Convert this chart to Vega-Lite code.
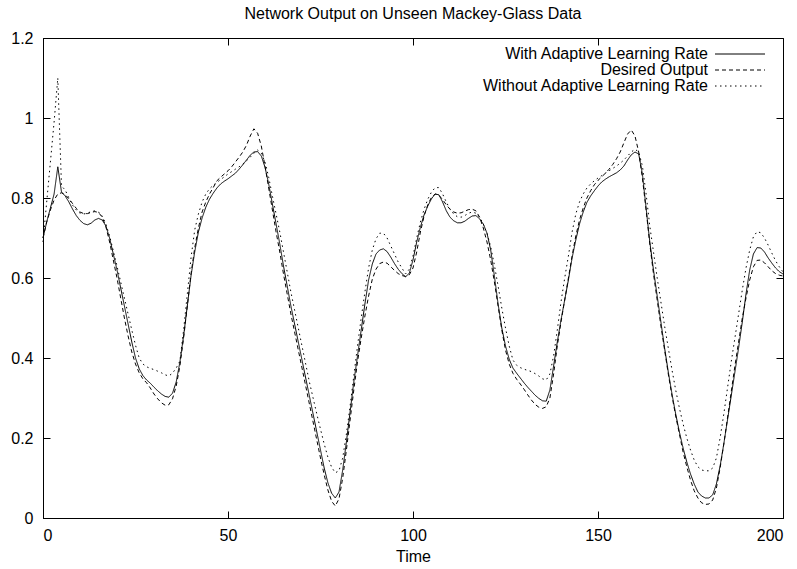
{
  "$schema": "https://vega.github.io/schema/vega-lite/v6.json",
  "width": 740,
  "height": 480,
  "autosize": {"type": "none"},
  "padding": {"left": 43, "top": 38, "right": 14, "bottom": 51},
  "background": "white",
  "title": {
    "text": "Network Output on Unseen Mackey-Glass Data",
    "font": "Liberation Sans",
    "fontSize": 16,
    "fontWeight": "normal",
    "color": "black",
    "anchor": "middle",
    "offset": 8
  },
  "config": {
    "view": {"stroke": "black", "strokeWidth": 1},
    "axis": {
      "grid": false,
      "domainColor": "black",
      "tickColor": "black",
      "tickSize": -7,
      "labelColor": "black",
      "labelFont": "Liberation Sans",
      "labelFontSize": 16,
      "titleFont": "Liberation Sans",
      "titleFontSize": 16,
      "titleFontWeight": "normal",
      "titleColor": "black"
    },
    "legend": {
      "labelFont": "Liberation Sans",
      "labelFontSize": 16,
      "labelColor": "black",
      "labelLimit": 0
    }
  },
  "data": {
    "values": [
      {"t":0,"w":0.700,"d":0.700,"n":0.690},
      {"t":1,"w":0.740,"d":0.740,"n":0.790},
      {"t":2,"w":0.775,"d":0.770,"n":0.890},
      {"t":3,"w":0.810,"d":0.795,"n":0.990},
      {"t":4,"w":0.878,"d":0.810,"n":1.100},
      {"t":5,"w":0.815,"d":0.813,"n":0.830},
      {"t":6,"w":0.805,"d":0.808,"n":0.820},
      {"t":7,"w":0.790,"d":0.798,"n":0.800},
      {"t":8,"w":0.772,"d":0.786,"n":0.782},
      {"t":9,"w":0.756,"d":0.774,"n":0.770},
      {"t":10,"w":0.744,"d":0.765,"n":0.762},
      {"t":11,"w":0.736,"d":0.761,"n":0.760},
      {"t":12,"w":0.733,"d":0.761,"n":0.762},
      {"t":13,"w":0.737,"d":0.764,"n":0.766},
      {"t":14,"w":0.745,"d":0.766,"n":0.768},
      {"t":15,"w":0.749,"d":0.764,"n":0.765},
      {"t":16,"w":0.745,"d":0.752,"n":0.755},
      {"t":17,"w":0.730,"d":0.728,"n":0.735},
      {"t":18,"w":0.700,"d":0.690,"n":0.705},
      {"t":19,"w":0.660,"d":0.645,"n":0.668},
      {"t":20,"w":0.620,"d":0.600,"n":0.630},
      {"t":21,"w":0.575,"d":0.550,"n":0.590},
      {"t":22,"w":0.530,"d":0.500,"n":0.550},
      {"t":23,"w":0.485,"d":0.455,"n":0.510},
      {"t":24,"w":0.440,"d":0.415,"n":0.470},
      {"t":25,"w":0.400,"d":0.385,"n":0.432},
      {"t":26,"w":0.373,"d":0.363,"n":0.400},
      {"t":27,"w":0.356,"d":0.348,"n":0.385},
      {"t":28,"w":0.345,"d":0.338,"n":0.378},
      {"t":29,"w":0.337,"d":0.325,"n":0.374},
      {"t":30,"w":0.327,"d":0.310,"n":0.371},
      {"t":31,"w":0.318,"d":0.298,"n":0.367},
      {"t":32,"w":0.310,"d":0.288,"n":0.363},
      {"t":33,"w":0.304,"d":0.282,"n":0.358},
      {"t":34,"w":0.302,"d":0.283,"n":0.355},
      {"t":35,"w":0.312,"d":0.298,"n":0.362},
      {"t":36,"w":0.340,"d":0.330,"n":0.375},
      {"t":37,"w":0.390,"d":0.380,"n":0.392},
      {"t":38,"w":0.455,"d":0.450,"n":0.470},
      {"t":39,"w":0.530,"d":0.530,"n":0.560},
      {"t":40,"w":0.605,"d":0.610,"n":0.650},
      {"t":41,"w":0.665,"d":0.675,"n":0.720},
      {"t":42,"w":0.715,"d":0.725,"n":0.760},
      {"t":43,"w":0.750,"d":0.765,"n":0.790},
      {"t":44,"w":0.777,"d":0.790,"n":0.810},
      {"t":45,"w":0.797,"d":0.810,"n":0.823},
      {"t":46,"w":0.812,"d":0.826,"n":0.832},
      {"t":47,"w":0.825,"d":0.843,"n":0.839},
      {"t":48,"w":0.835,"d":0.852,"n":0.846},
      {"t":49,"w":0.842,"d":0.860,"n":0.853},
      {"t":50,"w":0.848,"d":0.868,"n":0.860},
      {"t":51,"w":0.855,"d":0.878,"n":0.866},
      {"t":52,"w":0.862,"d":0.890,"n":0.872},
      {"t":53,"w":0.872,"d":0.902,"n":0.878},
      {"t":54,"w":0.883,"d":0.915,"n":0.885},
      {"t":55,"w":0.895,"d":0.932,"n":0.893},
      {"t":56,"w":0.907,"d":0.955,"n":0.902},
      {"t":57,"w":0.915,"d":0.973,"n":0.912},
      {"t":58,"w":0.916,"d":0.962,"n":0.920},
      {"t":59,"w":0.905,"d":0.930,"n":0.912},
      {"t":60,"w":0.877,"d":0.880,"n":0.890},
      {"t":61,"w":0.835,"d":0.825,"n":0.852},
      {"t":62,"w":0.785,"d":0.770,"n":0.805},
      {"t":63,"w":0.735,"d":0.715,"n":0.760},
      {"t":64,"w":0.685,"d":0.665,"n":0.715},
      {"t":65,"w":0.630,"d":0.610,"n":0.665},
      {"t":66,"w":0.580,"d":0.560,"n":0.615},
      {"t":67,"w":0.530,"d":0.510,"n":0.565},
      {"t":68,"w":0.485,"d":0.465,"n":0.520},
      {"t":69,"w":0.440,"d":0.420,"n":0.475},
      {"t":70,"w":0.395,"d":0.375,"n":0.430},
      {"t":71,"w":0.350,"d":0.330,"n":0.385},
      {"t":72,"w":0.305,"d":0.285,"n":0.340},
      {"t":73,"w":0.260,"d":0.240,"n":0.300},
      {"t":74,"w":0.215,"d":0.195,"n":0.260},
      {"t":75,"w":0.170,"d":0.150,"n":0.222},
      {"t":76,"w":0.125,"d":0.108,"n":0.185},
      {"t":77,"w":0.088,"d":0.070,"n":0.152},
      {"t":78,"w":0.062,"d":0.042,"n":0.127},
      {"t":79,"w":0.050,"d":0.030,"n":0.113},
      {"t":80,"w":0.065,"d":0.048,"n":0.118},
      {"t":81,"w":0.120,"d":0.100,"n":0.150},
      {"t":82,"w":0.190,"d":0.170,"n":0.210},
      {"t":83,"w":0.265,"d":0.245,"n":0.280},
      {"t":84,"w":0.340,"d":0.320,"n":0.355},
      {"t":85,"w":0.405,"d":0.390,"n":0.430},
      {"t":86,"w":0.470,"d":0.450,"n":0.500},
      {"t":87,"w":0.535,"d":0.505,"n":0.565},
      {"t":88,"w":0.595,"d":0.555,"n":0.625},
      {"t":89,"w":0.635,"d":0.597,"n":0.670},
      {"t":90,"w":0.660,"d":0.622,"n":0.698},
      {"t":91,"w":0.670,"d":0.636,"n":0.712},
      {"t":92,"w":0.673,"d":0.640,"n":0.712},
      {"t":93,"w":0.666,"d":0.637,"n":0.700},
      {"t":94,"w":0.652,"d":0.628,"n":0.680},
      {"t":95,"w":0.636,"d":0.619,"n":0.660},
      {"t":96,"w":0.622,"d":0.611,"n":0.640},
      {"t":97,"w":0.611,"d":0.606,"n":0.625},
      {"t":98,"w":0.603,"d":0.604,"n":0.610},
      {"t":99,"w":0.612,"d":0.608,"n":0.622},
      {"t":100,"w":0.645,"d":0.625,"n":0.655},
      {"t":101,"w":0.690,"d":0.665,"n":0.700},
      {"t":102,"w":0.727,"d":0.715,"n":0.740},
      {"t":103,"w":0.758,"d":0.755,"n":0.772},
      {"t":104,"w":0.780,"d":0.783,"n":0.797},
      {"t":105,"w":0.798,"d":0.802,"n":0.815},
      {"t":106,"w":0.810,"d":0.810,"n":0.826},
      {"t":107,"w":0.808,"d":0.807,"n":0.826},
      {"t":108,"w":0.790,"d":0.796,"n":0.810},
      {"t":109,"w":0.768,"d":0.783,"n":0.790},
      {"t":110,"w":0.752,"d":0.772,"n":0.772},
      {"t":111,"w":0.743,"d":0.765,"n":0.760},
      {"t":112,"w":0.738,"d":0.762,"n":0.753},
      {"t":113,"w":0.738,"d":0.763,"n":0.752},
      {"t":114,"w":0.742,"d":0.767,"n":0.756},
      {"t":115,"w":0.749,"d":0.771,"n":0.762},
      {"t":116,"w":0.755,"d":0.772,"n":0.765},
      {"t":117,"w":0.756,"d":0.768,"n":0.762},
      {"t":118,"w":0.748,"d":0.752,"n":0.752},
      {"t":119,"w":0.735,"d":0.725,"n":0.735},
      {"t":120,"w":0.712,"d":0.690,"n":0.712},
      {"t":121,"w":0.670,"d":0.645,"n":0.678},
      {"t":122,"w":0.605,"d":0.590,"n":0.632},
      {"t":123,"w":0.535,"d":0.530,"n":0.580},
      {"t":124,"w":0.475,"d":0.470,"n":0.525},
      {"t":125,"w":0.430,"d":0.420,"n":0.475},
      {"t":126,"w":0.397,"d":0.385,"n":0.430},
      {"t":127,"w":0.375,"d":0.362,"n":0.395},
      {"t":128,"w":0.362,"d":0.347,"n":0.382},
      {"t":129,"w":0.350,"d":0.335,"n":0.376},
      {"t":130,"w":0.338,"d":0.322,"n":0.372},
      {"t":131,"w":0.327,"d":0.308,"n":0.369},
      {"t":132,"w":0.317,"d":0.295,"n":0.366},
      {"t":133,"w":0.307,"d":0.284,"n":0.361},
      {"t":134,"w":0.299,"d":0.277,"n":0.355},
      {"t":135,"w":0.293,"d":0.274,"n":0.348},
      {"t":136,"w":0.292,"d":0.278,"n":0.345},
      {"t":137,"w":0.320,"d":0.300,"n":0.360},
      {"t":138,"w":0.380,"d":0.360,"n":0.405},
      {"t":139,"w":0.440,"d":0.430,"n":0.470},
      {"t":140,"w":0.495,"d":0.490,"n":0.540},
      {"t":141,"w":0.545,"d":0.545,"n":0.600},
      {"t":142,"w":0.595,"d":0.600,"n":0.655},
      {"t":143,"w":0.650,"d":0.655,"n":0.715},
      {"t":144,"w":0.695,"d":0.705,"n":0.760},
      {"t":145,"w":0.735,"d":0.745,"n":0.790},
      {"t":146,"w":0.765,"d":0.775,"n":0.810},
      {"t":147,"w":0.789,"d":0.800,"n":0.825},
      {"t":148,"w":0.805,"d":0.818,"n":0.835},
      {"t":149,"w":0.818,"d":0.833,"n":0.843},
      {"t":150,"w":0.830,"d":0.844,"n":0.850},
      {"t":151,"w":0.840,"d":0.853,"n":0.856},
      {"t":152,"w":0.847,"d":0.862,"n":0.862},
      {"t":153,"w":0.853,"d":0.872,"n":0.868},
      {"t":154,"w":0.858,"d":0.884,"n":0.874},
      {"t":155,"w":0.863,"d":0.898,"n":0.880},
      {"t":156,"w":0.870,"d":0.915,"n":0.887},
      {"t":157,"w":0.880,"d":0.938,"n":0.895},
      {"t":158,"w":0.895,"d":0.960,"n":0.905},
      {"t":159,"w":0.908,"d":0.970,"n":0.915},
      {"t":160,"w":0.915,"d":0.955,"n":0.922},
      {"t":161,"w":0.910,"d":0.915,"n":0.915},
      {"t":162,"w":0.860,"d":0.850,"n":0.880},
      {"t":163,"w":0.775,"d":0.770,"n":0.810},
      {"t":164,"w":0.690,"d":0.685,"n":0.730},
      {"t":165,"w":0.620,"d":0.610,"n":0.665},
      {"t":166,"w":0.555,"d":0.545,"n":0.600},
      {"t":167,"w":0.490,"d":0.480,"n":0.540},
      {"t":168,"w":0.425,"d":0.420,"n":0.480},
      {"t":169,"w":0.365,"d":0.360,"n":0.425},
      {"t":170,"w":0.310,"d":0.305,"n":0.370},
      {"t":171,"w":0.260,"d":0.255,"n":0.320},
      {"t":172,"w":0.215,"d":0.210,"n":0.275},
      {"t":173,"w":0.175,"d":0.165,"n":0.235},
      {"t":174,"w":0.140,"d":0.128,"n":0.200},
      {"t":175,"w":0.110,"d":0.095,"n":0.170},
      {"t":176,"w":0.085,"d":0.068,"n":0.145},
      {"t":177,"w":0.065,"d":0.050,"n":0.128},
      {"t":178,"w":0.055,"d":0.038,"n":0.120},
      {"t":179,"w":0.050,"d":0.034,"n":0.118},
      {"t":180,"w":0.050,"d":0.035,"n":0.118},
      {"t":181,"w":0.058,"d":0.045,"n":0.125},
      {"t":182,"w":0.085,"d":0.075,"n":0.150},
      {"t":183,"w":0.130,"d":0.125,"n":0.200},
      {"t":184,"w":0.185,"d":0.185,"n":0.260},
      {"t":185,"w":0.245,"d":0.250,"n":0.325},
      {"t":186,"w":0.305,"d":0.315,"n":0.390},
      {"t":187,"w":0.365,"d":0.380,"n":0.450},
      {"t":188,"w":0.425,"d":0.440,"n":0.510},
      {"t":189,"w":0.490,"d":0.500,"n":0.570},
      {"t":190,"w":0.560,"d":0.550,"n":0.625},
      {"t":191,"w":0.620,"d":0.595,"n":0.670},
      {"t":192,"w":0.660,"d":0.628,"n":0.703},
      {"t":193,"w":0.676,"d":0.644,"n":0.716},
      {"t":194,"w":0.675,"d":0.645,"n":0.713},
      {"t":195,"w":0.665,"d":0.638,"n":0.700},
      {"t":196,"w":0.650,"d":0.628,"n":0.682},
      {"t":197,"w":0.637,"d":0.618,"n":0.662},
      {"t":198,"w":0.625,"d":0.611,"n":0.643},
      {"t":199,"w":0.616,"d":0.607,"n":0.628},
      {"t":200,"w":0.610,"d":0.605,"n":0.615}
    ]
  },
  "transform": [{"fold": ["w", "d", "n"], "as": ["series", "value"]}],
  "layer": [
    {
      "mark": {"type": "line", "color": "black", "strokeWidth": 1, "interpolate": "linear"},
      "encoding": {
        "x": {
          "field": "t",
          "type": "quantitative",
          "scale": {"domain": [0, 200], "nice": false},
          "axis": {"orient": "bottom", "title": "Time", "values": [0, 50, 100, 150, 200], "labelPadding": 16, "titlePadding": 5}
        },
        "y": {
          "field": "value",
          "type": "quantitative",
          "scale": {"domain": [0, 1.2], "nice": false, "zero": false},
          "axis": {"orient": "left", "title": null, "values": [0, 0.2, 0.4, 0.6, 0.8, 1, 1.2], "format": "~g", "labelPadding": 17}
        },
        "strokeDash": {
          "field": "series",
          "type": "nominal",
          "scale": {"domain": ["w", "d", "n"], "range": [[1, 0], [4, 3], [1.5, 3.5]]},
          "legend": {
            "title": null,
            "orient": "none",
            "legendX": 664,
            "legendY": 8,
            "padding": 0,
            "symbolType": "M-4,0H4",
            "symbolSize": 156.25,
            "symbolStrokeWidth": 1,
            "symbolStrokeColor": "black",
            "symbolOffset": 25,
            "labelAlign": "right",
            "labelOffset": -40,
            "rowPadding": 0,
            "labelExpr": "datum.label == 'w' ? 'With Adaptive Learning Rate' : datum.label == 'd' ? 'Desired Output' : 'Without Adaptive Learning Rate'"
          }
        }
      }
    },
    {
      "mark": {"type": "line", "opacity": 0},
      "encoding": {
        "x": {
          "field": "t",
          "type": "quantitative",
          "axis": {"orient": "top", "title": null, "labels": false, "domain": false, "values": [0, 50, 100, 150, 200]}
        },
        "y": {
          "field": "value",
          "type": "quantitative",
          "axis": {"orient": "right", "title": null, "labels": false, "domain": false, "values": [0, 0.2, 0.4, 0.6, 0.8, 1, 1.2]}
        },
        "detail": {"field": "series", "type": "nominal"}
      }
    }
  ],
  "resolve": {"axis": {"x": "independent", "y": "independent"}}
}
